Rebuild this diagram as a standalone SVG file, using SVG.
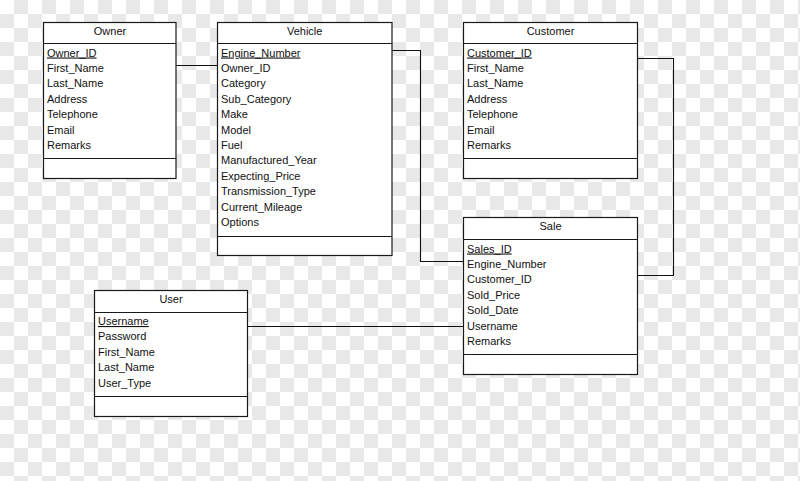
<svg xmlns="http://www.w3.org/2000/svg" width="800" height="481" viewBox="0 0 800 481">
<defs>
<pattern id="checker" width="28" height="28" patternUnits="userSpaceOnUse">
<rect width="28" height="28" fill="#ffffff"/>
<rect x="14" y="0" width="14" height="14" fill="#e9e9e9"/>
<rect x="0" y="14" width="14" height="14" fill="#e9e9e9"/>
</pattern>
</defs>
<style>
.box{fill:#fff;stroke:#1a1a1a;stroke-width:1.2}
.div{stroke:#1a1a1a;stroke-width:1.2}
.title{font-family:"Liberation Sans",Arial,sans-serif;font-size:11px;fill:#111;text-anchor:middle}
.attr{font-family:"Liberation Sans",Arial,sans-serif;font-size:11px;fill:#111}
.pk{text-decoration:underline}
.conn{fill:none;stroke:#111;stroke-width:1.1}
</style>
<rect width="800" height="481" fill="url(#checker)"/>
<g id="connectors">
<path class="conn" d="M176,65.5 H217.5"/>
<path class="conn" d="M392,50.5 H420.5 V261.5 H463.5"/>
<path class="conn" d="M637.5,58.5 H673.5 V275.5 H637.5"/>
<path class="conn" d="M247.5,326.5 H463.5"/>
</g>
<g id="owner">
<rect class="box" x="43.5" y="22.5" width="132.5" height="156"/>
<line class="div" x1="43.5" y1="43.5" x2="176" y2="43.5"/>
<line class="div" x1="43.5" y1="158.5" x2="176" y2="158.5"/>
<text class="title" x="110" y="34.5">Owner</text>
<text class="attr pk" x="47" y="56.5">Owner_ID</text>
<text class="attr" x="47" y="72">First_Name</text>
<text class="attr" x="47" y="87.4">Last_Name</text>
<text class="attr" x="47" y="102.8">Address</text>
<text class="attr" x="47" y="118.2">Telephone</text>
<text class="attr" x="47" y="133.6">Email</text>
<text class="attr" x="47" y="149">Remarks</text>
</g>
<g id="vehicle">
<rect class="box" x="217.5" y="22.5" width="174.5" height="233"/>
<line class="div" x1="217.5" y1="43.5" x2="392" y2="43.5"/>
<line class="div" x1="217.5" y1="236.5" x2="392" y2="236.5"/>
<text class="title" x="304.7" y="34.5">Vehicle</text>
<text class="attr pk" x="221" y="56.5">Engine_Number</text>
<text class="attr" x="221" y="72">Owner_ID</text>
<text class="attr" x="221" y="87.4">Category</text>
<text class="attr" x="221" y="102.8">Sub_Category</text>
<text class="attr" x="221" y="118.2">Make</text>
<text class="attr" x="221" y="133.6">Model</text>
<text class="attr" x="221" y="149">Fuel</text>
<text class="attr" x="221" y="164.4">Manufactured_Year</text>
<text class="attr" x="221" y="179.8">Expecting_Price</text>
<text class="attr" x="221" y="195.2">Transmission_Type</text>
<text class="attr" x="221" y="210.6">Current_Mileage</text>
<text class="attr" x="221" y="226">Options</text>
</g>
<g id="customer">
<rect class="box" x="463.5" y="22.5" width="174" height="156"/>
<line class="div" x1="463.5" y1="43.5" x2="637.5" y2="43.5"/>
<line class="div" x1="463.5" y1="158.5" x2="637.5" y2="158.5"/>
<text class="title" x="550.5" y="34.5">Customer</text>
<text class="attr pk" x="467" y="56.5">Customer_ID</text>
<text class="attr" x="467" y="72">First_Name</text>
<text class="attr" x="467" y="87.4">Last_Name</text>
<text class="attr" x="467" y="102.8">Address</text>
<text class="attr" x="467" y="118.2">Telephone</text>
<text class="attr" x="467" y="133.6">Email</text>
<text class="attr" x="467" y="149">Remarks</text>
</g>
<g id="sale">
<rect class="box" x="463.5" y="217.5" width="174" height="157"/>
<line class="div" x1="463.5" y1="239.5" x2="637.5" y2="239.5"/>
<line class="div" x1="463.5" y1="354.5" x2="637.5" y2="354.5"/>
<text class="title" x="550.5" y="229.5">Sale</text>
<text class="attr pk" x="467" y="252.5">Sales_ID</text>
<text class="attr" x="467" y="267.9">Engine_Number</text>
<text class="attr" x="467" y="283.3">Customer_ID</text>
<text class="attr" x="467" y="298.7">Sold_Price</text>
<text class="attr" x="467" y="314.1">Sold_Date</text>
<text class="attr" x="467" y="329.5">Username</text>
<text class="attr" x="467" y="344.9">Remarks</text>
</g>
<g id="user">
<rect class="box" x="94.5" y="290.5" width="153" height="126"/>
<line class="div" x1="94.5" y1="312.5" x2="247.5" y2="312.5"/>
<line class="div" x1="94.5" y1="396.5" x2="247.5" y2="396.5"/>
<text class="title" x="171" y="302.5">User</text>
<text class="attr pk" x="98" y="325">Username</text>
<text class="attr" x="98" y="340.4">Password</text>
<text class="attr" x="98" y="355.8">First_Name</text>
<text class="attr" x="98" y="371.2">Last_Name</text>
<text class="attr" x="98" y="386.6">User_Type</text>
</g>
</svg>
